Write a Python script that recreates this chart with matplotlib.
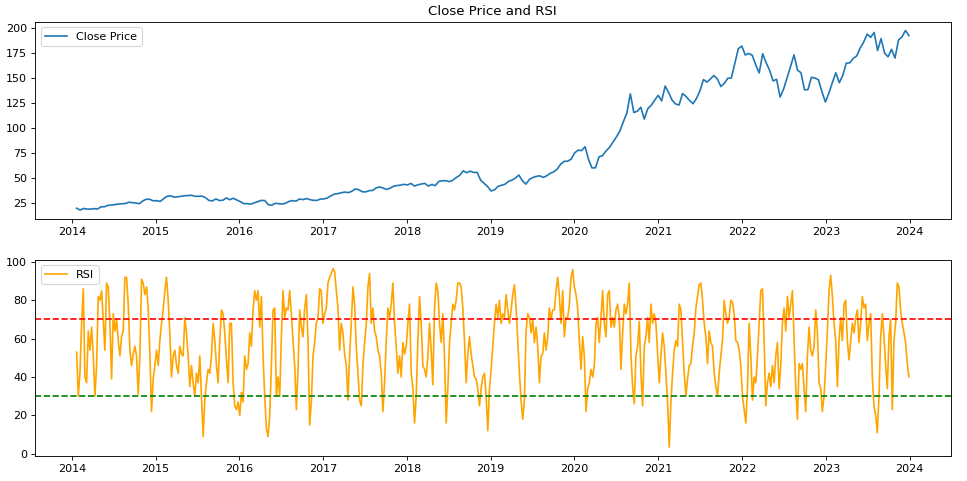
import matplotlib
matplotlib.use("Agg")
import matplotlib.pyplot as plt
import pandas as pd

# Close price, roughly twice a month
close = [
    19.7, 17.9, 19.5, 18.8, 18.8, 19.3, 18.9, 21.1, 21.2, 22.6, 22.8, 23.4, 23.9, 24.1, 24.4, 25.7, 25.3, 24.9, 24.2, 27.0, 28.7, 28.6, 27.1,
    27.3, 26.5, 29.3, 31.7, 32.1, 30.9, 31.1, 31.7, 32.2, 32.4, 32.6, 31.7, 31.6, 31.8, 30.3, 27.5, 27.0, 29.0, 27.4, 27.7, 30.0, 28.2, 29.7, 27.9,
    26.3, 24.3, 24.3, 23.8, 25.0, 26.2, 27.5, 27.4, 23.4, 22.6, 24.6, 24.3, 23.9, 24.7, 26.5, 27.3, 26.8, 28.9, 28.3, 29.4, 28.3, 27.6, 27.5, 28.9,
    29.0, 30.0, 32.1, 33.8, 34.3, 35.2, 35.9, 35.3, 36.6, 39.0, 38.3, 36.2, 36.0, 37.3, 37.5, 40.0, 41.0, 39.9, 38.5, 39.7, 41.7, 42.4, 42.8, 43.6,
    43.0, 44.5, 41.9, 43.1, 44.0, 44.5, 41.9, 43.5, 42.3, 46.6, 47.2, 47.2, 46.3, 47.7, 50.4, 52.6, 57.1, 55.3, 56.8, 55.5, 55.6, 47.9, 44.6, 41.4,
    37.0, 38.1, 41.6, 42.6, 43.7, 46.5, 47.8, 49.9, 52.9, 47.2, 43.8, 48.5, 50.4, 51.6, 52.1, 50.5, 52.2, 54.7, 56.1, 58.8, 63.9, 66.6, 66.8, 68.8,
    75.1, 77.8, 77.4, 81.2, 68.3, 60.0, 60.2, 71.1, 72.3, 76.9, 80.5, 85.7, 91.0, 97.1, 106.3, 115.0, 134.2, 115.5, 116.8, 120.7, 108.9, 119.3, 122.7, 127.9,
    132.7, 127.1, 142.0, 135.4, 127.8, 124.0, 123.0, 134.5, 131.5, 127.5, 124.3, 129.6, 137.3, 148.5, 145.9, 149.1, 152.5, 149.0, 141.5, 144.8, 149.8, 150.0, 164.8, 179.3,
    182.0, 173.1, 174.6, 172.8, 163.2, 155.1, 174.3, 165.3, 157.7, 147.1, 148.7, 131.0, 138.9, 150.2, 161.5, 173.2, 157.9, 155.3, 138.2, 138.4, 150.7, 150.0, 148.3, 136.5,
    126.0, 134.8, 145.4, 155.3, 145.3, 152.6, 164.9, 165.2, 169.6, 172.1, 180.1, 186.0, 194.0, 190.7, 195.6, 177.5, 189.5, 175.0, 171.2, 178.7, 170.0, 188.0, 191.2, 197.6, 192.5,
]

# RSI, roughly weekly
rsi = [
    53, 30, 42, 68, 86, 40, 37, 64, 54, 66, 51, 30, 46, 82, 80, 85, 70, 54, 89, 87,
    68, 39, 73, 64, 70, 59, 51, 61, 64, 92, 92, 78, 54, 46, 52, 56, 51, 31, 51, 91,
    89, 83, 87, 76, 52, 22, 39, 46, 54, 46, 59, 68, 75, 85, 92, 80, 63, 40, 51, 54,
    46, 42, 56, 52, 51, 71, 63, 51, 35, 46, 37, 30, 42, 37, 51, 30, 9, 28, 37, 44,
    42, 51, 68, 59, 46, 37, 59, 75, 73, 63, 49, 37, 68,
    68, 37, 25, 23, 27, 20, 32, 27, 51, 44, 47, 63, 56, 75, 85, 80, 85, 66, 82, 51,
    30, 13, 9, 20, 46, 75, 76, 30, 40, 30, 61, 85, 71, 76, 75, 85, 73, 59, 46, 23,
    44, 75, 66, 61, 76, 83, 59, 15, 27, 51, 58, 68, 71, 86, 85, 68, 73, 76, 89, 92,
    94, 96.5, 95, 85, 76, 54, 68, 63, 52, 46, 28, 51, 68, 87, 78, 56, 42, 28, 25, 46,
    58, 68, 87, 94, 68, 76, 64, 61, 54, 51, 42, 22, 37, 59, 76, 71, 78, 89, 68, 56,
    42, 51,
    40, 58, 52, 56, 68, 78, 42, 34, 16, 30, 59, 82, 68, 46, 44, 40, 51, 68, 54, 36,
    76, 89, 85, 68, 58, 73, 51, 16, 34, 58, 68, 78, 75, 80, 89, 89, 87, 76, 59, 37,
    52, 61, 52, 46, 40, 39, 34, 25, 34, 40, 42, 30, 12, 34, 44, 56, 68, 78, 71, 80,
    68, 73, 71, 83, 75, 68, 75, 83, 88, 76, 59, 42, 28, 18, 28, 64, 73, 71, 63, 70,
    58, 66, 56, 37, 51, 52, 63, 54, 61, 76, 70, 75, 75, 85, 92, 82, 68, 85, 61, 71,
    71, 78, 92, 96,
    87, 83, 76, 59, 44, 61, 51, 22, 34, 37, 44, 40, 46, 68, 71, 58, 71, 85, 68, 61,
    83, 85, 66, 71, 66, 75, 78, 71, 44, 63, 78, 73, 78, 89, 52, 35, 26, 51, 56, 69,
    42, 25, 56, 61, 71, 58, 78, 68, 73, 68, 52, 37, 51, 63, 56, 42, 27, 3.5, 27, 42,
    54, 59, 56, 78, 75, 58, 42, 30, 39, 46, 47, 56, 63, 76, 82, 88, 89, 80, 68, 61,
    47, 64, 58, 56, 42, 35, 30, 42, 51, 59, 80, 73, 68, 71, 80, 79, 73, 59, 58, 54,
    46, 30, 23, 16, 34, 68, 51, 28, 40, 37, 51, 68, 85, 86, 59, 25, 37, 42, 35, 46,
    37, 51, 58, 34, 46, 68, 76, 64, 82, 71, 78, 85, 59, 34, 18, 47, 44, 47, 34, 22,
    51, 66, 54, 51, 56, 75, 64, 37, 34, 22, 30, 46, 64, 85, 93, 82, 68, 59, 35, 59,
    71, 59, 78, 80, 59, 49, 59, 68, 63, 71, 75, 58, 68, 82, 76, 78, 59, 68, 73, 40,
    25, 20, 11, 30, 61, 73, 61, 46, 34, 61, 70, 23, 59, 68, 89, 87, 75, 68, 63, 58,
    47, 40,
]

start, end = "2014-01-22", "2023-12-29"
close_dates = pd.date_range(start, end, periods=len(close))
rsi_dates = pd.date_range(start, end, periods=len(rsi))

fig = plt.figure(figsize=(967 / 80, 481 / 80), dpi=80)
ax1 = fig.add_axes([0.0362, 0.5447, 0.9468, 0.4106])
ax2 = fig.add_axes([0.0362, 0.052, 0.9468, 0.408])

# Price panel
ax1.plot(close_dates, close, label="Close Price")
ax1.set_title("Close Price and RSI")
ax1.legend(loc="upper left")

# RSI panel with overbought / oversold lines
ax2.plot(rsi_dates, rsi, label="RSI", color="orange")
ax2.axhline(70, color="red", linestyle="--")
ax2.axhline(30, color="green", linestyle="--")
ax2.legend(loc="upper left")

fig.savefig("out.png", dpi=80)
